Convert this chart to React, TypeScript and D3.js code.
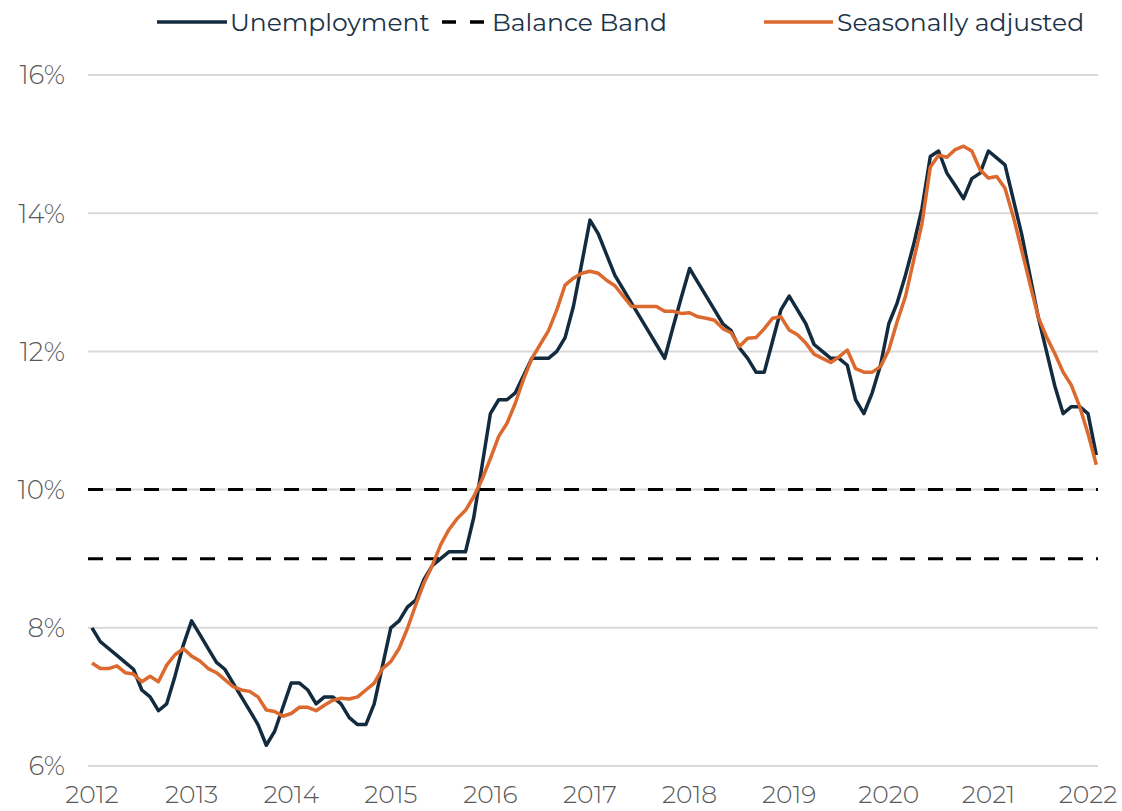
import { useMemo } from "react";
import * as d3 from "d3";

// monthly, Jan 2012 .. Feb 2022
const unemployment = [
  8.0, 7.8, 7.7, 7.6, 7.5, 7.4, 7.1, 7.0, 6.8, 6.9, 7.3, 7.75,
  8.1, 7.9, 7.7, 7.5, 7.4, 7.2, 7.0, 6.8, 6.6, 6.3, 6.5, 6.85,
  7.2, 7.2, 7.1, 6.9, 7.0, 7.0, 6.9, 6.7, 6.6, 6.6, 6.9, 7.45,
  8.0, 8.1, 8.3, 8.4, 8.7, 8.9, 9.0, 9.1, 9.1, 9.1, 9.6, 10.35,
  11.1, 11.3, 11.3, 11.4, 11.65, 11.9, 11.9, 11.9, 12.0, 12.2, 12.65, 13.27,
  13.9, 13.7, 13.4, 13.1, 12.9, 12.7, 12.5, 12.3, 12.1, 11.9, 12.35, 12.78,
  13.2, 13.0, 12.8, 12.6, 12.4, 12.3, 12.05, 11.9, 11.7, 11.7, 12.15, 12.6,
  12.8, 12.6, 12.4, 12.1, 12.0, 11.9, 11.9, 11.8, 11.3, 11.1, 11.4, 11.8,
  12.4, 12.7, 13.1, 13.55, 14.07, 14.82, 14.9, 14.58, 14.4, 14.21, 14.5, 14.58,
  14.9, 14.8, 14.7, 14.2, 13.7, 13.1, 12.5, 12.0, 11.5, 11.1, 11.2, 11.2,
  11.1, 10.5,
];

const seasonallyAdjusted = [
  7.49, 7.41, 7.41, 7.45, 7.35, 7.33, 7.22, 7.3, 7.22, 7.46, 7.61, 7.7,
  7.59, 7.52, 7.41, 7.35, 7.25, 7.15, 7.1, 7.08, 7.0, 6.81, 6.79, 6.72,
  6.76, 6.85, 6.85, 6.8, 6.88, 6.95, 6.98, 6.97, 7.0, 7.1, 7.2, 7.41,
  7.51, 7.7, 7.99, 8.33, 8.65, 8.9, 9.2, 9.42, 9.58, 9.7, 9.9, 10.15,
  10.45, 10.77, 10.96, 11.25, 11.6, 11.9, 12.1, 12.3, 12.6, 12.96, 13.06, 13.13,
  13.16, 13.13, 13.03, 12.95, 12.8, 12.65, 12.65, 12.65, 12.65, 12.58, 12.58, 12.55,
  12.56, 12.5, 12.48, 12.45, 12.33, 12.27, 12.07, 12.19, 12.2, 12.33, 12.48, 12.5,
  12.31, 12.24, 12.12, 11.96, 11.9, 11.84, 11.92, 12.02, 11.75, 11.7, 11.7, 11.78,
  12.02, 12.43, 12.79, 13.32, 13.85, 14.67, 14.84, 14.81, 14.92, 14.97, 14.9, 14.63,
  14.51, 14.53, 14.36, 13.95, 13.47, 12.98, 12.5, 12.21, 11.97, 11.7, 11.51, 11.2,
  10.81, 10.36,
];

const balanceBand = [9, 10];
const yTicks = [6, 8, 10, 12, 14, 16];
const yearLabels = ["2012", "2013", "2014", "2015", "2016", "2017", "2018", "2019", "2020", "2021", "2022"];

const WIDTH = 1122;
const HEIGHT = 811;
const MARGIN = { top: 75, right: 34, bottom: 45, left: 92 };
const NAVY = "#132b3f";
const ORANGE = "#dc692d";
const GRID = "#d9d9d9";
const LABEL = "#595959";
const FONT = "Montserrat, 'Open Sans', sans-serif";

export default function App() {
  const xScale = useMemo(
    () => d3.scaleLinear().domain([0, 120]).range([MARGIN.left, MARGIN.left + 996]),
    []
  );
  const yScale = useMemo(
    () => d3.scaleLinear().domain([6, 16]).range([HEIGHT - MARGIN.bottom, MARGIN.top]),
    []
  );

  const line = d3
    .line<number>()
    .x((_, i) => xScale(i))
    .y((d) => yScale(d));

  const gridLeft = MARGIN.left - 4;
  const gridRight = WIDTH - MARGIN.right + 10;

  return (
    <svg
      width={WIDTH}
      height={HEIGHT}
      style={{ position: "absolute", left: 0, top: 0, background: "#fff" }}
      fontFamily={FONT}
    >
      {/* grid + y labels */}
      {yTicks.map((t) => (
        <g key={t}>
          <line x1={gridLeft} x2={gridRight} y1={yScale(t)} y2={yScale(t)} stroke={GRID} strokeWidth={2} />
          <text x={65} y={yScale(t)} dy="0.36em" textAnchor="end" fontSize={26} fontWeight={300} fill={LABEL}>
            {t}%
          </text>
        </g>
      ))}

      {/* x labels */}
      {yearLabels.map((y, i) => (
        <text key={y} x={xScale(i * 12)} y={803} textAnchor="middle" fontSize={25} fontWeight={300} fill={LABEL}>
          {y}
        </text>
      ))}

      {/* balance band */}
      {balanceBand.map((b) => (
        <line
          key={b}
          x1={gridLeft}
          x2={gridRight}
          y1={yScale(b)}
          y2={yScale(b)}
          stroke="#000"
          strokeWidth={3}
          strokeDasharray="15 13"
        />
      ))}

      <path d={line(unemployment) ?? ""} fill="none" stroke={NAVY} strokeWidth={3.5} strokeLinejoin="round" />
      <path d={line(seasonallyAdjusted) ?? ""} fill="none" stroke={ORANGE} strokeWidth={3.5} strokeLinejoin="round" />

      {/* legend */}
      <g fontSize={25} fill="#1b3348">
        <line x1={157} x2={227} y1={22} y2={22} stroke={NAVY} strokeWidth={3.5} />
        <text x={230} y={31}>Unemployment</text>
        <line x1={442} x2={486} y1={22} y2={22} stroke="#000" strokeWidth={3.5} strokeDasharray="14 14" />
        <text x={492} y={31}>Balance Band</text>
        <line x1={764} x2={833} y1={22} y2={22} stroke={ORANGE} strokeWidth={3.5} />
        <text x={837} y={31}>Seasonally adjusted</text>
      </g>
    </svg>
  );
}
